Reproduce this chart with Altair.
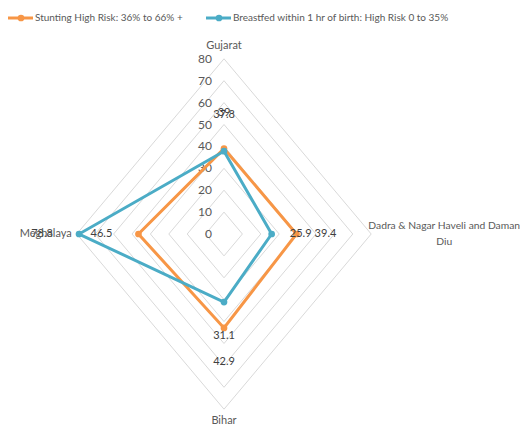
import altair as alt
import pandas as pd
import numpy as np

# ---------------- data ----------------
categories = ["Gujarat", "Dadra & Nagar Haveli and Daman Diu", "Bihar", "Meghalaya"]
stunting = [39, 39.4, 42.9, 46.5]
breastfed = [37.8, 25.9, 31.1, 78.8]
series_names = ["Stunting High Risk: 36% to 66% +",
                "Breastfed within 1 hr of birth: High Risk 0 to 35%"]
ticks = [0, 10, 20, 30, 40, 50, 60, 70, 80]

# ---------------- layout / style ----------------
series_colors = ["#F79646", "#4BACC6"]
FONT = "Lato"
FS = 11
W, H = 523, 430
CX, CY = 224, 234          # pixel centre of radar
KX, KY = 1.84, 2.19        # pixels per unit along x / y
xdom = [-CX / KX, (W - CX) / KX]
ydom = [-(H - CY) / KY, CY / KY]
angles = np.deg2rad([0, 90, 180, 270])
sx, sy = np.sin(angles), np.cos(angles)
label_off_px = [36, 29, 34, 37]   # data-label distance from point, per axis

xs = alt.Scale(domain=xdom, range=[0, W], nice=False, zero=False)
ys = alt.Scale(domain=ydom, range=[H, 0], nice=False, zero=False)
X = lambda f: alt.X(f, type="quantitative", scale=xs, axis=None)
Y = lambda f: alt.Y(f, type="quantitative", scale=ys, axis=None)

# series rows
rows = []
for s, vals in zip(series_names, [stunting, breastfed]):
    for i, (c, v) in enumerate(zip(categories, vals)):
        rows.append(dict(series=s, cat=c, value=v, order=i,
                         x=v * sx[i], y=v * sy[i],
                         lx=v * sx[i] + sx[i] * label_off_px[i] / KX,
                         ly=v * sy[i] + sy[i] * label_off_px[i] / KY,
                         label=f"{v:g}"))
    r0 = dict(rows[-4]); r0["order"] = 4
    rows.append(r0)
df = pd.DataFrame(rows)
pts = df[df.order < 4]

# grid rings
grid = []
for t in ticks[1:]:
    for j in range(5):
        k = j % 4
        grid.append(dict(ring=t, order=j, x=t * sx[k], y=t * sy[k]))
gdf = pd.DataFrame(grid)

color = alt.Color("series:N", scale=alt.Scale(domain=series_names, range=series_colors), legend=None)

rings = alt.Chart(gdf).mark_line(color="#D9D9D9", strokeWidth=1).encode(
    x=X("x"), y=Y("y"), detail="ring:N", order="order:Q")

tick_df = pd.DataFrame({"t": ticks, "x": [0] * len(ticks), "lbl": [str(t) for t in ticks]})
tick_text = alt.Chart(tick_df).mark_text(align="right", baseline="middle", dx=-12,
                                         font=FONT, fontSize=FS + 1, color="#595959").encode(
    x=X("x"), y=Y("t"), text="lbl:N")

lines = alt.Chart(df).mark_line(strokeWidth=3).encode(
    x=X("x"), y=Y("y"), color=color, detail="series:N", order="order:Q")
points = alt.Chart(pts).mark_circle(size=45, opacity=1).encode(
    x=X("x"), y=Y("y"), color=color)
dlabels = alt.Chart(pts).mark_text(font=FONT, fontSize=FS, color="#404040",
                                   baseline="middle").encode(
    x=X("lx"), y=Y("ly"), text="label:N")

# category labels
cat_df = pd.DataFrame({"cat": categories, "x": 80 * sx, "y": 80 * sy})
cat_layers = []
specs = [
    (0, dict(align="center", baseline="middle", dy=-13, fontSize=FS)),
    (1, dict(align="center", baseline="middle", dx=73, dy=-8, lineBreak="|", fontSize=10.3)),
    (2, dict(align="center", baseline="middle", dy=12, fontSize=FS)),
    (3, dict(align="right", baseline="middle", dx=-5, fontSize=FS)),
]
for i, kw in specs:
    d = cat_df.iloc[[i]].copy()
    if i == 1:
        d["cat"] = "Dadra & Nagar Haveli and Daman|Diu"
    cat_layers.append(alt.Chart(d).mark_text(font=FONT, color="#595959",
                                             lineHeight=16, **kw).encode(
        x=X("x"), y=Y("y"), text="cat:N"))

# legend
leg_layers = []
for name, col, x0 in zip(series_names, series_colors, [8, 206]):
    d = pd.DataFrame({"name": [name]})
    base = alt.Chart(d)
    leg_layers.append(base.mark_rule(color=col, strokeWidth=3).encode(
        x=alt.value(x0), x2=alt.value(x0 + 25), y=alt.value(18)))
    leg_layers.append(base.mark_circle(color=col, size=45, opacity=1).encode(
        x=alt.value(x0 + 13), y=alt.value(18)))
    leg_layers.append(base.mark_text(align="left", baseline="middle", font=FONT,
                                     fontSize=10, color="#595959").encode(
        x=alt.value(x0 + 27), y=alt.value(18), text="name:N"))

chart = alt.layer(rings, tick_text, lines, points, dlabels, *cat_layers, *leg_layers).properties(
    width=W, height=H, autosize=alt.AutoSizeParams(type="none"), padding=0,
    background="white"
).configure_view(stroke=None)

chart.save("out.html", embed_options={"renderer": "svg", "actions": False})
